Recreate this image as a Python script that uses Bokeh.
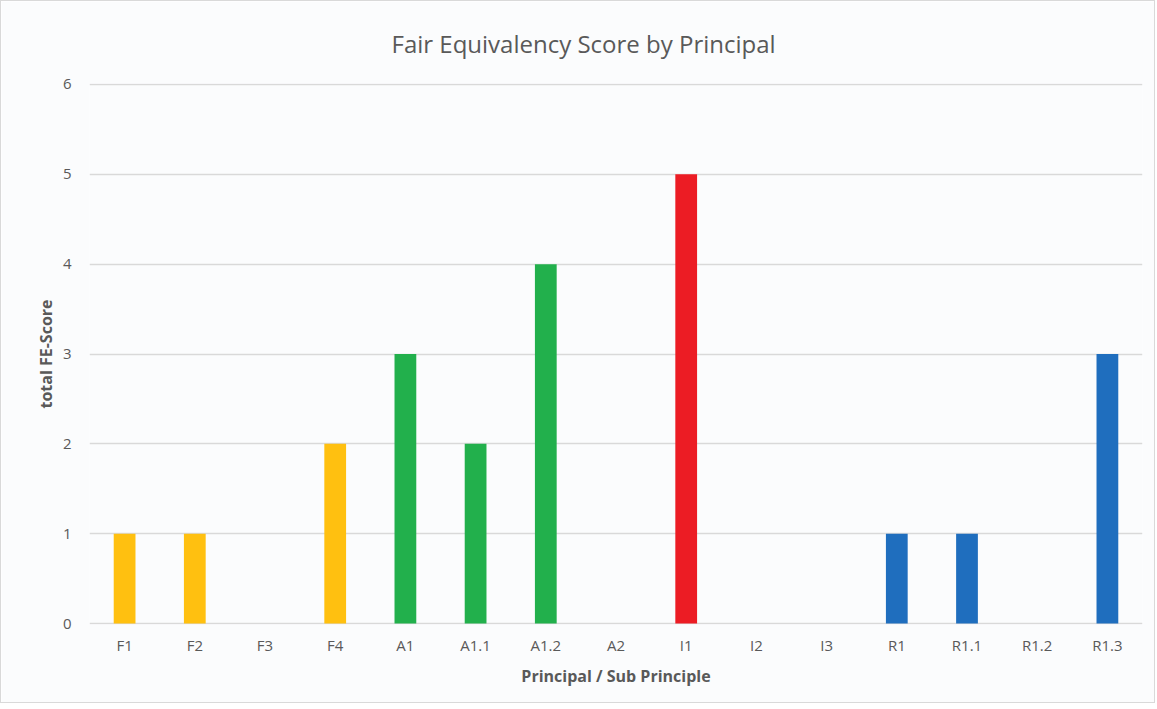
from bokeh.plotting import figure
from bokeh.models import ColumnDataSource, FixedTicker, Range1d
from bokeh.embed import file_html
from bokeh.resources import INLINE

categories = ["F1", "F2", "F3", "F4", "A1", "A1.1", "A1.2", "A2", "I1", "I2", "I3", "R1", "R1.1", "R1.2", "R1.3"]
scores = [1, 1, 0, 2, 3, 2, 4, 0, 5, 0, 0, 1, 1, 0, 3]
bar_colors = ["#FFC010", "#FFC010", "#FFC010", "#FFC010",
              "#22B04C", "#22B04C", "#22B04C", "#22B04C",
              "#EC1C24", "#EC1C24", "#EC1C24",
              "#1F6EBE", "#1F6EBE", "#1F6EBE", "#1F6EBE"]
y_ticks = [0, 1, 2, 3, 4, 5, 6]

src = ColumnDataSource(dict(cat=categories, score=scores, color=bar_colors))

BG = "#fbfcfd"
TXT = "#595959"

p = figure(x_range=categories, y_range=Range1d(-0.01, 6.01), width=1155, height=703,
           output_backend="svg", toolbar_location=None,
           title="Fair Equivalency Score by Principal",
           min_border_left=88, min_border_right=14, min_border_top=81, min_border_bottom=80)
p.styles = {"border": "1px solid #d9d9d9"}
p.background_fill_color = BG
p.border_fill_color = BG
p.outline_line_color = None

p.vbar(x="cat", top="score", width=0.31, fill_color="color", line_color=None, source=src)

p.title.align = "left"
p.title.text_font = "Open Sans"
p.title.text_font_size = "24px"
p.title.text_font_style = "normal"
p.title.text_color = TXT
p.title.standoff = 47
p.title.offset = 302

p.xgrid.grid_line_color = None
p.ygrid.grid_line_color = "#d9d9d9"
p.ygrid.grid_line_width = 1.5
p.yaxis.ticker = FixedTicker(ticks=y_ticks)

for ax in (p.xaxis, p.yaxis):
    ax.axis_line_color = None
    ax.major_tick_line_color = None
    ax.minor_tick_line_color = None
    ax.major_label_text_font = "Open Sans"
    ax.major_label_text_font_size = "15px"
    ax.major_label_text_color = TXT
    ax.axis_label_text_font = "Open Sans"
    ax.axis_label_text_font_size = "16px"
    ax.axis_label_text_font_style = "bold"
    ax.axis_label_text_color = TXT

p.yaxis.major_label_standoff = 12
p.xaxis.major_label_standoff = 4
p.xaxis.axis_label = "Principal / Sub Principle"
p.yaxis.axis_label = "total FE-Score"
p.xaxis.axis_label_standoff = 7
p.yaxis.axis_label_standoff = 3

open("out.html", "w").write(file_html(p, INLINE))
